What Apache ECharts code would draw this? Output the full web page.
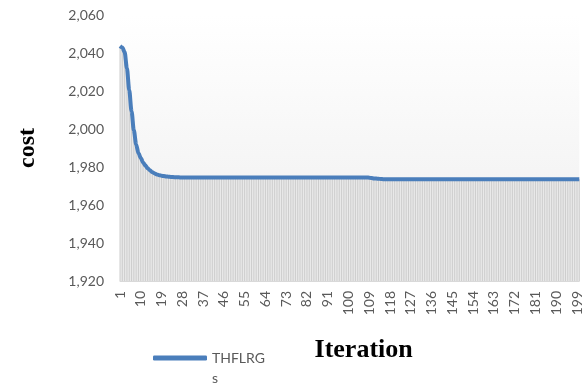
<!DOCTYPE html>
<html>
<head>
<meta charset="utf-8">
<script src="https://cdn.jsdelivr.net/npm/echarts@6/dist/echarts.min.js"></script>
<style>html,body{margin:0;padding:0;background:#fff;}#c{width:584px;height:383px;}</style>
</head>
<body>
<div id="c"></div>
<script>
const seriesName = 'THFLRGs';
const iterations = [];
for (let i = 1; i <= 200; i++) iterations.push(String(i));
const cost = [
  2043.6, 2042.9, 2040.5, 2032.0, 2020.4, 2009.3, 1999.3, 1991.9, 1987.2, 1984.8,
  1982.4, 1980.8, 1979.3, 1978.2, 1977.3, 1976.6, 1976.1, 1975.7, 1975.4, 1975.2,
  1975.0, 1974.9, 1974.8, 1974.7, 1974.6, 1974.6, 1974.5, 1974.5, 1974.5, 1974.5,
  1974.5, 1974.5, 1974.5, 1974.5, 1974.5, 1974.5, 1974.5, 1974.5, 1974.5, 1974.5,
  1974.5, 1974.5, 1974.5, 1974.5, 1974.5, 1974.5, 1974.5, 1974.5, 1974.5, 1974.5,
  1974.5, 1974.5, 1974.5, 1974.5, 1974.5, 1974.5, 1974.5, 1974.5, 1974.5, 1974.5,
  1974.5, 1974.5, 1974.5, 1974.5, 1974.5, 1974.5, 1974.5, 1974.5, 1974.5, 1974.5,
  1974.5, 1974.5, 1974.5, 1974.5, 1974.5, 1974.5, 1974.5, 1974.5, 1974.5, 1974.5,
  1974.5, 1974.5, 1974.5, 1974.5, 1974.5, 1974.5, 1974.5, 1974.5, 1974.5, 1974.5,
  1974.5, 1974.5, 1974.5, 1974.5, 1974.5, 1974.5, 1974.5, 1974.5, 1974.5, 1974.5,
  1974.5, 1974.5, 1974.5, 1974.5, 1974.5, 1974.5, 1974.5, 1974.5, 1974.4, 1974.2,
  1974.0, 1973.9, 1973.8, 1973.7, 1973.6, 1973.5, 1973.5, 1973.5, 1973.5, 1973.5,
  1973.5, 1973.5, 1973.5, 1973.5, 1973.5, 1973.5, 1973.5, 1973.5, 1973.5, 1973.5,
  1973.5, 1973.5, 1973.5, 1973.5, 1973.5, 1973.5, 1973.5, 1973.5, 1973.5, 1973.5,
  1973.5, 1973.5, 1973.5, 1973.5, 1973.5, 1973.5, 1973.5, 1973.5, 1973.5, 1973.5,
  1973.5, 1973.5, 1973.5, 1973.5, 1973.5, 1973.5, 1973.5, 1973.5, 1973.5, 1973.5,
  1973.5, 1973.5, 1973.5, 1973.5, 1973.5, 1973.5, 1973.5, 1973.5, 1973.5, 1973.5,
  1973.5, 1973.5, 1973.5, 1973.5, 1973.5, 1973.5, 1973.5, 1973.5, 1973.5, 1973.5,
  1973.5, 1973.5, 1973.5, 1973.5, 1973.5, 1973.5, 1973.5, 1973.5, 1973.5, 1973.5,
  1973.5, 1973.5, 1973.5, 1973.5, 1973.5, 1973.5, 1973.5, 1973.5, 1973.5, 1973.5
];
const yMin = 1920, yMax = 2060, yStep = 20;

const chart = echarts.init(document.getElementById('c'), null, {renderer: 'canvas'});
chart.setOption({
  animation: false,
  backgroundColor: '#ffffff',
  grid: {
    left: 120, right: 4, top: 15, bottom: 102, show: true, borderWidth: 0,
    backgroundColor: {type: 'linear', x: 0, y: 0, x2: 0, y2: 1,
      colorStops: [{offset: 0, color: '#ffffff'}, {offset: 1, color: '#eeeeee'}]}
  },
  legend: {
    data: [{name: seriesName, icon: 'roundRect'}], left: 153, top: 328, padding: 0,
    itemWidth: 54, itemHeight: 5, itemGap: 0,
    itemStyle: {color: '#4a7ebb'},
    formatter: n => '\n' + n.slice(0, 6) + '\n' + n.slice(6),
    textStyle: {fontFamily: 'Lato', fontSize: 14, color: '#595959', lineHeight: 20}
  },
  xAxis: {
    type: 'category', data: iterations, boundaryGap: false,
    name: 'Iteration', nameLocation: 'middle', nameGap: 56,
    nameTextStyle: {fontFamily: 'Liberation Serif', fontWeight: 'bold', fontSize: 26, color: '#000', padding: [0, 0, 0, 28]},
    axisLine: {lineStyle: {color: '#d9d9d9', width: 1}},
    axisTick: {show: false},
    axisLabel: {interval: 8, rotate: 90, margin: 10, fontFamily: 'Lato', fontSize: 14, color: '#595959'}
  },
  yAxis: {
    type: 'value', min: yMin, max: yMax, interval: yStep,
    name: 'cost', nameLocation: 'middle', nameGap: 80, nameRotate: 90,
    nameTextStyle: {fontFamily: 'Liberation Serif', fontWeight: 'bold', fontSize: 24, color: '#000'},
    axisLine: {show: false}, axisTick: {show: false}, splitLine: {show: false},
    axisLabel: {margin: 16, fontFamily: 'Lato', fontSize: 14, color: '#595959',
      formatter: v => v.toLocaleString('en-US')}
  },
  series: [
    {
      name: 'fill', type: 'line', data: cost, showSymbol: false, symbol: 'none',
      smooth: 0.3, smoothMonotone: 'x', silent: true,
      lineStyle: {width: 0, opacity: 0},
      areaStyle: {color: '#e9e9e9', opacity: 1, origin: 'start'},
      z: 1
    },
    {
      name: 'drop', type: 'bar', data: cost, barWidth: 1, silent: true,
      itemStyle: {color: '#cdcdcd'}, z: 2
    },
    {
      name: seriesName, type: 'line', data: cost, showSymbol: false, symbol: 'none',
      smooth: 0.3, smoothMonotone: 'x',
      lineStyle: {color: '#4a7ebb', width: 4},
      itemStyle: {color: '#4a7ebb'},
      z: 3
    }
  ]
});
</script>
</body>
</html>
